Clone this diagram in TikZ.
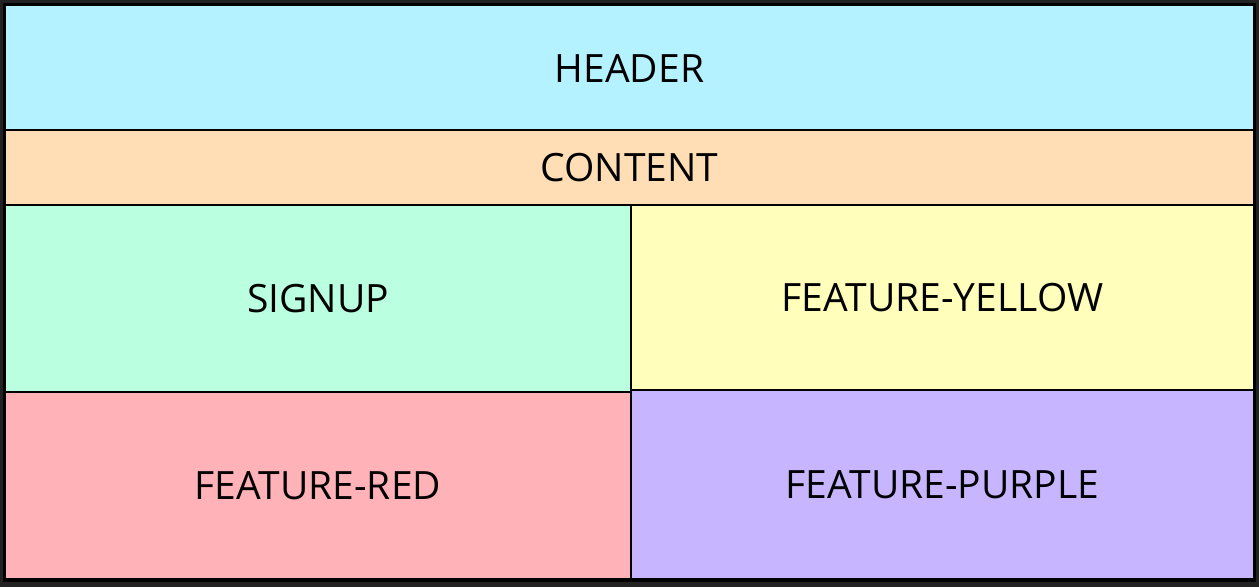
\documentclass[tikz,border=0pt]{standalone}
\usepackage{fontspec}
\setmainfont{Open Sans}
\definecolor{frame}{RGB}{34,34,34}
\definecolor{cyanbg}{RGB}{180,242,255}
\definecolor{peachbg}{RGB}{255,222,182}
\definecolor{mintbg}{RGB}{187,255,225}
\definecolor{yellowbg}{RGB}{255,255,187}
\definecolor{pinkbg}{RGB}{255,178,183}
\definecolor{lavbg}{RGB}{200,181,255}
\begin{document}
\begin{tikzpicture}[x=1pt,y=-1pt,
  cell/.style={draw=black,line width=1.5pt,inner sep=0pt,font=\fontsize{39}{46}\selectfont,text=black}]
\useasboundingbox (0,0) rectangle (1259,587);
\fill[frame] (0,0) rectangle (1259,587);
\fill[black] (3,3) rectangle (1256,582);
\path[cell,fill=cyanbg] (5,5) rectangle (1254,130) node[pos=0.5,draw=none,yshift=-1pt] (header) {HEADER};
\path[cell,fill=peachbg] (5,130) rectangle (1254,205) node[pos=0.5,draw=none] (content) {CONTENT};
\path[cell,fill=mintbg] (5,205) rectangle (631,392) node[pos=0.5,draw=none] (signup) {SIGNUP};
\path[cell,fill=yellowbg] (631,205) rectangle (1254,390) node[pos=0.5,draw=none] (yellow) {FEATURE-YELLOW};
\path[cell,fill=pinkbg] (5,392) rectangle (631,579) node[pos=0.5,draw=none] (red) {FEATURE-RED};
\path[cell,fill=lavbg] (631,390) rectangle (1254,579) node[pos=0.5,draw=none] (purple) {FEATURE-PURPLE};
\end{tikzpicture}
\end{document}
